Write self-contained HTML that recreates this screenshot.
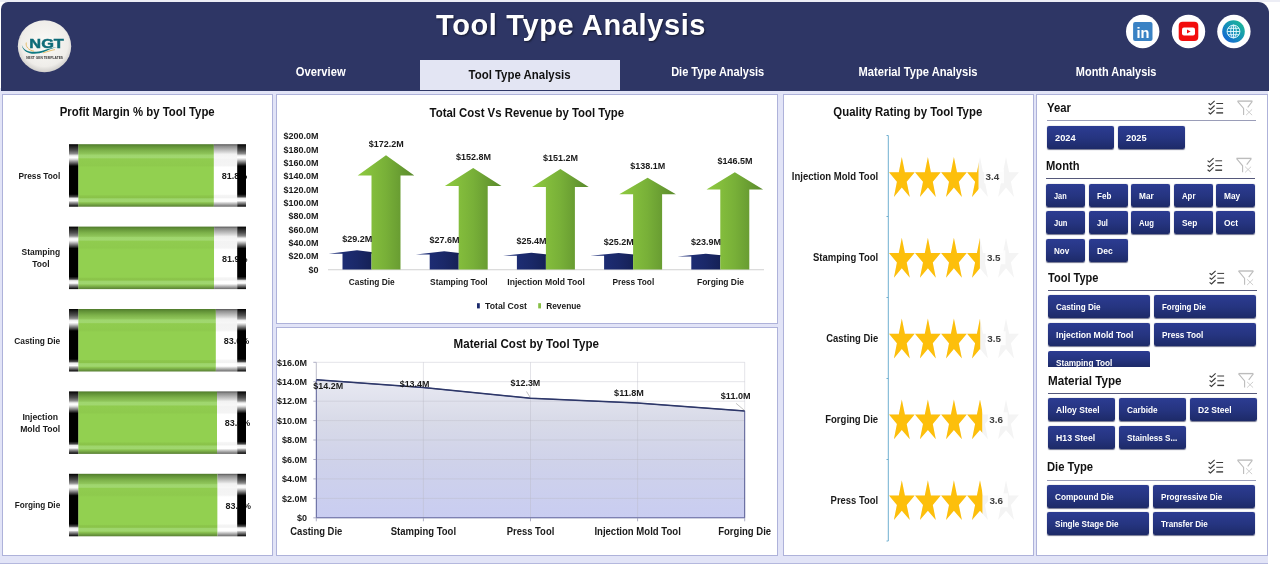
<!DOCTYPE html>
<html lang="en"><head><meta charset="utf-8"><title>Tool Type Analysis</title>
<style>
*{box-sizing:border-box;margin:0;padding:0}
html,body{width:1280px;height:572px;overflow:hidden;background:#fff}
body{font-family:"Liberation Sans",sans-serif;font-weight:bold;color:#1a1a1a;position:relative}
.abs{position:absolute}
#topstrip{left:0;top:0;width:1280px;height:2px;background:#ecedf5}
#canvas{left:0;top:88px;width:1268px;height:475.5px;background:#e2e4f7;border-bottom:1px solid #b4b8de}
#header{left:1px;top:2px;width:1268px;height:88.5px;background:#2e3665;border-radius:7px 11px 0 0}
#title{left:436px;top:7px;font-size:29px;line-height:36px;color:#fff;white-space:nowrap;text-shadow:1px 1px 2px rgba(0,0,0,.55);letter-spacing:0.62px}
.tab{top:60px;height:30px;width:200px;color:#fff;font-size:12px;line-height:14px;text-align:center;white-space:nowrap}
.tab span{display:inline-block;transform-origin:center}
.tab.active{background:#e3e5f3;color:#111}
.panel{background:#fff;border:1px solid #aeb2da}
svg{position:absolute;left:0;top:0;overflow:visible}
.tab,.btn,.sl-title,#title,svg{will-change:transform}
svg text{font-family:"Liberation Sans",sans-serif}
.sl-title{font-size:12px;line-height:14px;white-space:nowrap;color:#111}
.sl-title span,.btn span{display:inline-block;transform-origin:left center;white-space:nowrap}
.sl-line{height:1.5px;background:#8f93b5}
.btn{height:23.3px;border-radius:2px;background:linear-gradient(180deg,#2c3c92 0%,#25347f 55%,#1d2a68 100%);color:#fff;font-size:9px;line-height:23.3px;padding-left:7.7px;padding-top:1.4px;overflow:hidden;box-shadow:0 0.5px 1px rgba(20,25,70,.6)}
</style></head><body>
<div id="topstrip" class="abs"></div>
<div id="canvas" class="abs"></div>
<div id="header" class="abs"></div>
<div id="title" class="abs">Tool Type Analysis</div>
<svg class="abs" width="1280" height="95" viewBox="0 0 1280 95">
<defs>
<radialGradient id="lg" cx="50%" cy="45%" r="55%"><stop offset="0" stop-color="#fbfaf7"/><stop offset="0.8" stop-color="#efede9"/><stop offset="1" stop-color="#cfcdca"/></radialGradient>
<linearGradient id="gg" x1="1" y1="0" x2="0" y2="1"><stop offset="0" stop-color="#1fc08f"/><stop offset="0.5" stop-color="#1592b8"/><stop offset="1" stop-color="#1459dc"/></linearGradient>
</defs>
<ellipse cx="44.5" cy="46.2" rx="26.7" ry="26" fill="url(#lg)"/>
<text x="46.6" y="48" font-size="13" font-weight="bold" text-anchor="middle" fill="#0d6b78" stroke="#0d6b78" stroke-width="0.45" textLength="34.5" lengthAdjust="spacingAndGlyphs">NGT</text>
<path d="M21.8 45 C24 51.8 33 53.6 44 50.2 C49 48.600 53 47.400 57 47 C52.500 48.200 49 49.800 45 51.500 C35 55.600 23.500 54.500 21.800 45 Z" fill="#0f7b83"/>
<path d="M26.3 42.5 C25.300 46.500 28.500 50.300 34 51.200" fill="none" stroke="#e0a93a" stroke-width="0.7"/>
<path d="M43 52.8 C47.500 51.800 51 50.200 55 49.600" fill="none" stroke="#e0a93a" stroke-width="0.7"/>
<text x="44.6" y="58.9" font-size="2.9" font-weight="bold" text-anchor="middle" fill="#333" textLength="36.8" lengthAdjust="spacingAndGlyphs">NEXT GEN TEMPLATES</text>
<!-- social icons -->
<circle cx="1142.7" cy="31.5" r="16.7" fill="#fff"/>
<rect x="1133.1" y="22" width="19.4" height="18.9" rx="2" fill="#3a82c4"/>
<text x="1142.9" y="38" font-size="15.5" font-weight="bold" text-anchor="middle" fill="#fff" textLength="13" lengthAdjust="spacingAndGlyphs">in</text>
<circle cx="1188.5" cy="31.5" r="16.7" fill="#fff"/>
<rect x="1178.7" y="21.7" width="19.6" height="19.2" rx="4" fill="#f20d0d"/>
<rect x="1182" y="27.4" width="13" height="8" rx="2" fill="#fff"/>
<path d="M1187 29.4 L1190.6 31.4 L1187 33.400 Z" fill="#f20d0d"/>
<circle cx="1233.9" cy="31.500" r="16.700" fill="#fff"/>
<circle cx="1233.5" cy="31.500" r="11.300" fill="url(#gg)"/>
<g fill="none" stroke="#e8fbff" stroke-width="0.9">
<circle cx="1233.5" cy="31.500" r="6.400"/>
<ellipse cx="1233.5" cy="31.500" rx="2.800" ry="6.400"/>
<path d="M1233.5 25.100 V37.900 M1227.100 31.500 H1239.900 M1228 28.300 H1239 M1228 34.700 H1239"/>
</g>
</svg>
<div class="abs tab" style="left:221px;padding-top:4.8px"><span style="transform:scaleX(0.934)">Overview</span></div>
<div class="abs tab active" style="left:420px;padding-top:8.3px"><span style="transform:scaleX(0.953)">Tool Type Analysis</span></div>
<div class="abs tab" style="left:618px;padding-top:4.8px"><span style="transform:scaleX(0.918)">Die Type Analysis</span></div>
<div class="abs tab" style="left:818px;padding-top:4.8px"><span style="transform:scaleX(0.930)">Material Type Analysis</span></div>
<div class="abs tab" style="left:1016px;padding-top:4.8px"><span style="transform:scaleX(0.913)">Month Analysis</span></div>
<div id="p1" class="abs panel" style="left:2px;top:94px;width:271px;height:462px"></div>
<div id="p2" class="abs panel" style="left:276px;top:94px;width:502px;height:230px"></div>
<div id="p3" class="abs panel" style="left:276px;top:327px;width:502px;height:229px"></div>
<div id="p4" class="abs panel" style="left:783px;top:94px;width:251px;height:462px"></div>
<div id="p5" class="abs panel" style="left:1036px;top:94px;width:232px;height:462px"></div>
<svg class="abs" width="1280" height="572" viewBox="0 0 1280 572">
<defs>
<linearGradient id="cap" x1="0" y1="0" x2="0" y2="1"><stop offset="0" stop-color="#000"/><stop offset="0.03" stop-color="#1c1c1c"/><stop offset="0.1" stop-color="#505050"/><stop offset="0.15" stop-color="#8a8a8a"/><stop offset="0.185" stop-color="#f2f2f2"/><stop offset="0.215" stop-color="#fff"/><stop offset="0.24" stop-color="#dcdcdc"/><stop offset="0.35" stop-color="#000"/><stop offset="0.8" stop-color="#000"/><stop offset="0.84" stop-color="#4a4a4a"/><stop offset="0.865" stop-color="#ececec"/><stop offset="0.905" stop-color="#fff"/><stop offset="0.93" stop-color="#a8a8a8"/><stop offset="1" stop-color="#000"/></linearGradient>
<linearGradient id="grn" x1="0" y1="0" x2="0" y2="1"><stop offset="0" stop-color="#4f7a2b"/><stop offset="0.03" stop-color="#5f8f35"/><stop offset="0.1" stop-color="#7db24a"/><stop offset="0.155" stop-color="#8fc55a"/><stop offset="0.175" stop-color="#9fd66e"/><stop offset="0.215" stop-color="#a1d770"/><stop offset="0.235" stop-color="#90cc4f"/><stop offset="0.34" stop-color="#8eca4d"/><stop offset="0.37" stop-color="#92d050"/><stop offset="0.81" stop-color="#92d050"/><stop offset="0.825" stop-color="#8cc64b"/><stop offset="0.855" stop-color="#8ac349"/><stop offset="0.875" stop-color="#9ed56c"/><stop offset="0.915" stop-color="#a0d66f"/><stop offset="0.935" stop-color="#8cc452"/><stop offset="1" stop-color="#587f33"/></linearGradient>
<linearGradient id="emp" x1="0" y1="0" x2="0" y2="1"><stop offset="0" stop-color="#555"/><stop offset="0.03" stop-color="#8c8c8c"/><stop offset="0.13" stop-color="#d8d8d8"/><stop offset="0.16" stop-color="#f2f2f2"/><stop offset="0.22" stop-color="#f7f7f7"/><stop offset="0.24" stop-color="#f3f3f3"/><stop offset="0.34" stop-color="#f4f4f4"/><stop offset="0.37" stop-color="#fff"/><stop offset="0.8" stop-color="#fff"/><stop offset="0.82" stop-color="#f5f5f5"/><stop offset="0.855" stop-color="#f2f2f2"/><stop offset="0.875" stop-color="#fff"/><stop offset="0.915" stop-color="#fff"/><stop offset="0.94" stop-color="#d0d0d0"/><stop offset="1" stop-color="#6a6a6a"/></linearGradient>
<linearGradient id="arg" x1="0" y1="0" x2="1" y2="0"><stop offset="0" stop-color="#8fca40"/><stop offset="0.5" stop-color="#78b038"/><stop offset="1" stop-color="#5a8a2c"/></linearGradient>
<linearGradient id="arb" x1="0" y1="0" x2="1" y2="0"><stop offset="0" stop-color="#20317e"/><stop offset="0.5" stop-color="#1a2868"/><stop offset="1" stop-color="#111a46"/></linearGradient>
<linearGradient id="area" x1="0" y1="0" x2="0" y2="1"><stop offset="0" stop-color="#e8e9f2"/><stop offset="0.3" stop-color="#d8dae8"/><stop offset="0.6" stop-color="#cfd2ea"/><stop offset="1" stop-color="#c9cdf1"/></linearGradient>
</defs>
<text x="137.2" y="115.7" font-size="12" font-weight="bold" text-anchor="middle" fill="#111" textLength="155.0" lengthAdjust="spacingAndGlyphs">Profit Margin % by Tool Type</text>
<rect x="78.2" y="144.2" width="135.7" height="62.5" fill="url(#grn)"/>
<rect x="213.9" y="144.2" width="23.3" height="62.5" fill="url(#emp)"/>
<text x="221.7" y="179.1" font-size="9" font-weight="bold" text-anchor="start" fill="#1a1a1a">81.8%</text>
<rect x="69" y="144.2" width="9.2" height="62.5" fill="url(#cap)"/>
<rect x="237.2" y="144.2" width="8.8" height="62.5" fill="url(#cap)"/>
<text x="60.2" y="178.7" font-size="9" font-weight="bold" text-anchor="end" fill="#1a1a1a" textLength="41.8" lengthAdjust="spacingAndGlyphs">Press Tool</text>
<rect x="78.2" y="226.6" width="135.9" height="62.5" fill="url(#grn)"/>
<rect x="214.1" y="226.6" width="23.1" height="62.5" fill="url(#emp)"/>
<text x="221.9" y="261.5" font-size="9" font-weight="bold" text-anchor="start" fill="#1a1a1a">81.9%</text>
<rect x="69" y="226.6" width="9.2" height="62.5" fill="url(#cap)"/>
<rect x="237.2" y="226.6" width="8.8" height="62.5" fill="url(#cap)"/>
<text x="40.9" y="255.1" font-size="9" font-weight="bold" text-anchor="middle" fill="#1a1a1a" textLength="38.6" lengthAdjust="spacingAndGlyphs">Stamping</text>
<text x="40.9" y="267.1" font-size="9" font-weight="bold" text-anchor="middle" fill="#1a1a1a" textLength="17.2" lengthAdjust="spacingAndGlyphs">Tool</text>
<rect x="78.2" y="309.0" width="137.7" height="62.5" fill="url(#grn)"/>
<rect x="215.9" y="309.0" width="21.3" height="62.5" fill="url(#emp)"/>
<text x="223.7" y="343.9" font-size="9" font-weight="bold" text-anchor="start" fill="#1a1a1a">83.0%</text>
<rect x="69" y="309.0" width="9.2" height="62.5" fill="url(#cap)"/>
<rect x="237.2" y="309.0" width="8.8" height="62.5" fill="url(#cap)"/>
<text x="60.2" y="343.5" font-size="9" font-weight="bold" text-anchor="end" fill="#1a1a1a" textLength="46.0" lengthAdjust="spacingAndGlyphs">Casting Die</text>
<rect x="78.2" y="391.4" width="138.8" height="62.5" fill="url(#grn)"/>
<rect x="217.0" y="391.4" width="20.2" height="62.5" fill="url(#emp)"/>
<text x="224.8" y="426.3" font-size="9" font-weight="bold" text-anchor="start" fill="#1a1a1a">83.6%</text>
<rect x="69" y="391.4" width="9.2" height="62.5" fill="url(#cap)"/>
<rect x="237.2" y="391.4" width="8.8" height="62.5" fill="url(#cap)"/>
<text x="40.2" y="419.9" font-size="9" font-weight="bold" text-anchor="middle" fill="#1a1a1a" textLength="35.6" lengthAdjust="spacingAndGlyphs">Injection</text>
<text x="40.2" y="431.9" font-size="9" font-weight="bold" text-anchor="middle" fill="#1a1a1a" textLength="40.0" lengthAdjust="spacingAndGlyphs">Mold Tool</text>
<rect x="78.2" y="473.8" width="139.4" height="62.5" fill="url(#grn)"/>
<rect x="217.6" y="473.8" width="19.6" height="62.5" fill="url(#emp)"/>
<text x="225.4" y="508.7" font-size="9" font-weight="bold" text-anchor="start" fill="#1a1a1a">83.9%</text>
<rect x="69" y="473.8" width="9.2" height="62.5" fill="url(#cap)"/>
<rect x="237.2" y="473.8" width="8.8" height="62.5" fill="url(#cap)"/>
<text x="60.2" y="508.3" font-size="9" font-weight="bold" text-anchor="end" fill="#1a1a1a" textLength="45.5" lengthAdjust="spacingAndGlyphs">Forging Die</text>
<text x="526.8" y="116.6" font-size="12" font-weight="bold" text-anchor="middle" fill="#111" textLength="194.5" lengthAdjust="spacingAndGlyphs">Total Cost Vs Revenue by Tool Type</text>
<text x="318.6" y="272.7" font-size="9" font-weight="bold" text-anchor="end" fill="#1a1a1a">$0</text>
<text x="318.6" y="259.4" font-size="9" font-weight="bold" text-anchor="end" fill="#1a1a1a">$20.0M</text>
<text x="318.6" y="246.0" font-size="9" font-weight="bold" text-anchor="end" fill="#1a1a1a">$40.0M</text>
<text x="318.6" y="232.7" font-size="9" font-weight="bold" text-anchor="end" fill="#1a1a1a">$60.0M</text>
<text x="318.6" y="219.3" font-size="9" font-weight="bold" text-anchor="end" fill="#1a1a1a">$80.0M</text>
<text x="318.6" y="206.0" font-size="9" font-weight="bold" text-anchor="end" fill="#1a1a1a">$100.0M</text>
<text x="318.6" y="192.7" font-size="9" font-weight="bold" text-anchor="end" fill="#1a1a1a">$120.0M</text>
<text x="318.6" y="179.3" font-size="9" font-weight="bold" text-anchor="end" fill="#1a1a1a">$140.0M</text>
<text x="318.6" y="166.0" font-size="9" font-weight="bold" text-anchor="end" fill="#1a1a1a">$160.0M</text>
<text x="318.6" y="152.6" font-size="9" font-weight="bold" text-anchor="end" fill="#1a1a1a">$180.0M</text>
<text x="318.6" y="139.3" font-size="9" font-weight="bold" text-anchor="end" fill="#1a1a1a">$200.0M</text>
<rect x="328" y="269.1" width="436" height="1.2" fill="#d9d9d9"/>
<path d="M357.0 250.2 L385.3 253.7 L371.5 253.7 L371.5 269.6 L342.5 269.6 L342.5 253.7 L328.7 253.7 Z" fill="url(#arb)"/>
<path d="M386.0 155.2 L414.3 175.5 L400.5 175.5 L400.5 269.6 L371.5 269.6 L371.5 175.5 L357.7 175.5 Z" fill="url(#arg)"/>
<text x="357.2" y="241.8" font-size="9" font-weight="bold" text-anchor="middle" fill="#1a1a1a">$29.2M</text>
<text x="386.2" y="146.7" font-size="9" font-weight="bold" text-anchor="middle" fill="#1a1a1a">$172.2M</text>
<text x="371.7" y="285.0" font-size="9" font-weight="bold" text-anchor="middle" fill="#1a1a1a" textLength="45.9" lengthAdjust="spacingAndGlyphs">Casting Die</text>
<path d="M444.2 251.3 L472.5 254.5 L458.7 254.5 L458.7 269.6 L429.7 269.6 L429.7 254.5 L415.9 254.5 Z" fill="url(#arb)"/>
<path d="M473.2 168.1 L501.5 186.1 L487.7 186.1 L487.7 269.6 L458.7 269.6 L458.7 186.1 L444.9 186.1 Z" fill="url(#arg)"/>
<text x="444.4" y="242.9" font-size="9" font-weight="bold" text-anchor="middle" fill="#1a1a1a">$27.6M</text>
<text x="473.4" y="159.6" font-size="9" font-weight="bold" text-anchor="middle" fill="#1a1a1a">$152.8M</text>
<text x="458.9" y="285.0" font-size="9" font-weight="bold" text-anchor="middle" fill="#1a1a1a" textLength="57.6" lengthAdjust="spacingAndGlyphs">Stamping Tool</text>
<path d="M531.4 252.7 L559.7 255.7 L545.9 255.7 L545.9 269.6 L516.9 269.6 L516.9 255.7 L503.1 255.7 Z" fill="url(#arb)"/>
<path d="M560.4 169.1 L588.7 187.0 L574.9 187.0 L574.9 269.6 L545.9 269.6 L545.9 187.0 L532.1 187.0 Z" fill="url(#arg)"/>
<text x="531.6" y="244.3" font-size="9" font-weight="bold" text-anchor="middle" fill="#1a1a1a">$25.4M</text>
<text x="560.6" y="160.6" font-size="9" font-weight="bold" text-anchor="middle" fill="#1a1a1a">$151.2M</text>
<text x="546.1" y="285.0" font-size="9" font-weight="bold" text-anchor="middle" fill="#1a1a1a" textLength="77.5" lengthAdjust="spacingAndGlyphs">Injection Mold Tool</text>
<path d="M618.6 252.9 L646.9 255.8 L633.1 255.8 L633.1 269.6 L604.1 269.6 L604.1 255.8 L590.3 255.8 Z" fill="url(#arb)"/>
<path d="M647.6 177.8 L675.9 194.2 L662.1 194.2 L662.1 269.6 L633.1 269.6 L633.1 194.2 L619.3 194.2 Z" fill="url(#arg)"/>
<text x="618.8" y="244.5" font-size="9" font-weight="bold" text-anchor="middle" fill="#1a1a1a">$25.2M</text>
<text x="647.8" y="169.3" font-size="9" font-weight="bold" text-anchor="middle" fill="#1a1a1a">$138.1M</text>
<text x="633.3" y="285.0" font-size="9" font-weight="bold" text-anchor="middle" fill="#1a1a1a" textLength="41.8" lengthAdjust="spacingAndGlyphs">Press Tool</text>
<path d="M705.8 253.7 L734.1 256.5 L720.3 256.5 L720.3 269.6 L691.3 269.6 L691.3 256.5 L677.5 256.5 Z" fill="url(#arb)"/>
<path d="M734.8 172.3 L763.1 189.6 L749.3 189.6 L749.3 269.6 L720.3 269.6 L720.3 189.6 L706.5 189.6 Z" fill="url(#arg)"/>
<text x="706.0" y="245.3" font-size="9" font-weight="bold" text-anchor="middle" fill="#1a1a1a">$23.9M</text>
<text x="735.0" y="163.8" font-size="9" font-weight="bold" text-anchor="middle" fill="#1a1a1a">$146.5M</text>
<text x="720.5" y="285.0" font-size="9" font-weight="bold" text-anchor="middle" fill="#1a1a1a" textLength="47.0" lengthAdjust="spacingAndGlyphs">Forging Die</text>
<rect x="477" y="303.2" width="2.8" height="5.2" fill="#1b2a6b"/>
<text x="485.0" y="308.8" font-size="9" font-weight="bold" text-anchor="start" fill="#1a1a1a" textLength="41.9" lengthAdjust="spacingAndGlyphs">Total Cost</text>
<rect x="538.2" y="303.2" width="2.8" height="5.2" fill="#86bf45"/>
<text x="546.2" y="308.8" font-size="9" font-weight="bold" text-anchor="start" fill="#1a1a1a" textLength="34.8" lengthAdjust="spacingAndGlyphs">Revenue</text>
<text x="526.3" y="348.3" font-size="12" font-weight="bold" text-anchor="middle" fill="#111" textLength="145.4" lengthAdjust="spacingAndGlyphs">Material Cost by Tool Type</text>
<polygon points="316.3,517.8 316.3,379.8 423.4,387.6 530.5,398.2 637.6,403.1 744.7,410.9 744.7,517.8" fill="url(#area)"/>
<line x1="316.3" y1="498.4" x2="744.7" y2="498.4" stroke="#b9b9c6" stroke-opacity="0.5" stroke-width="0.8"/>
<line x1="316.3" y1="478.9" x2="744.7" y2="478.9" stroke="#b9b9c6" stroke-opacity="0.5" stroke-width="0.8"/>
<line x1="316.3" y1="459.5" x2="744.7" y2="459.5" stroke="#b9b9c6" stroke-opacity="0.5" stroke-width="0.8"/>
<line x1="316.3" y1="440.0" x2="744.7" y2="440.0" stroke="#b9b9c6" stroke-opacity="0.5" stroke-width="0.8"/>
<line x1="316.3" y1="420.6" x2="744.7" y2="420.6" stroke="#b9b9c6" stroke-opacity="0.5" stroke-width="0.8"/>
<line x1="316.3" y1="401.2" x2="744.7" y2="401.2" stroke="#b9b9c6" stroke-opacity="0.5" stroke-width="0.8"/>
<line x1="316.3" y1="381.7" x2="744.7" y2="381.7" stroke="#b9b9c6" stroke-opacity="0.5" stroke-width="0.8"/>
<line x1="316.3" y1="362.3" x2="744.7" y2="362.3" stroke="#b9b9c6" stroke-opacity="0.5" stroke-width="0.8"/>
<line x1="423.4" y1="362.3" x2="423.4" y2="517.8" stroke="#b9b9c6" stroke-opacity="0.5" stroke-width="0.8"/>
<line x1="530.5" y1="362.3" x2="530.5" y2="517.8" stroke="#b9b9c6" stroke-opacity="0.5" stroke-width="0.8"/>
<line x1="637.6" y1="362.3" x2="637.6" y2="517.8" stroke="#b9b9c6" stroke-opacity="0.5" stroke-width="0.8"/>
<line x1="744.7" y1="362.3" x2="744.7" y2="517.8" stroke="#b9b9c6" stroke-opacity="0.5" stroke-width="0.8"/>
<polygon points="316.3,517.8 316.3,379.8 423.4,387.6 530.5,398.2 637.6,403.1 744.7,410.9 744.7,517.8" fill="none" stroke="#4a4f8c" stroke-width="0.9"/>
<line x1="316.3" y1="362.3" x2="316.3" y2="379.8" stroke="#b4b4c4" stroke-width="0.9"/>
<polyline points="316.3,379.8 423.4,387.6 530.5,398.2 637.6,403.1 744.7,410.9" fill="none" stroke="#2d3768" stroke-width="1.55" stroke-linejoin="round"/>
<line x1="313.3" y1="517.8" x2="316.3" y2="517.8" stroke="#9a9ab8" stroke-width="0.8"/>
<text x="307.0" y="521.0" font-size="9" font-weight="bold" text-anchor="end" fill="#1a1a1a">$0</text>
<line x1="313.3" y1="498.4" x2="316.3" y2="498.4" stroke="#9a9ab8" stroke-width="0.8"/>
<text x="307.0" y="501.6" font-size="9" font-weight="bold" text-anchor="end" fill="#1a1a1a">$2.0M</text>
<line x1="313.3" y1="478.9" x2="316.3" y2="478.9" stroke="#9a9ab8" stroke-width="0.8"/>
<text x="307.0" y="482.1" font-size="9" font-weight="bold" text-anchor="end" fill="#1a1a1a">$4.0M</text>
<line x1="313.3" y1="459.5" x2="316.3" y2="459.5" stroke="#9a9ab8" stroke-width="0.8"/>
<text x="307.0" y="462.7" font-size="9" font-weight="bold" text-anchor="end" fill="#1a1a1a">$6.0M</text>
<line x1="313.3" y1="440.0" x2="316.3" y2="440.0" stroke="#9a9ab8" stroke-width="0.8"/>
<text x="307.0" y="443.2" font-size="9" font-weight="bold" text-anchor="end" fill="#1a1a1a">$8.0M</text>
<line x1="313.3" y1="420.6" x2="316.3" y2="420.6" stroke="#9a9ab8" stroke-width="0.8"/>
<text x="307.0" y="423.8" font-size="9" font-weight="bold" text-anchor="end" fill="#1a1a1a">$10.0M</text>
<line x1="313.3" y1="401.2" x2="316.3" y2="401.2" stroke="#9a9ab8" stroke-width="0.8"/>
<text x="307.0" y="404.4" font-size="9" font-weight="bold" text-anchor="end" fill="#1a1a1a">$12.0M</text>
<line x1="313.3" y1="381.7" x2="316.3" y2="381.7" stroke="#9a9ab8" stroke-width="0.8"/>
<text x="307.0" y="384.9" font-size="9" font-weight="bold" text-anchor="end" fill="#1a1a1a">$14.0M</text>
<line x1="313.3" y1="362.3" x2="316.3" y2="362.3" stroke="#9a9ab8" stroke-width="0.8"/>
<text x="307.0" y="365.5" font-size="9" font-weight="bold" text-anchor="end" fill="#1a1a1a">$16.0M</text>
<line x1="316.3" y1="517.8" x2="316.3" y2="521.3" stroke="#9a9ab8" stroke-width="0.8"/>
<line x1="423.4" y1="517.8" x2="423.4" y2="521.3" stroke="#9a9ab8" stroke-width="0.8"/>
<line x1="530.5" y1="517.8" x2="530.5" y2="521.3" stroke="#9a9ab8" stroke-width="0.8"/>
<line x1="637.6" y1="517.8" x2="637.6" y2="521.3" stroke="#9a9ab8" stroke-width="0.8"/>
<line x1="744.7" y1="517.8" x2="744.7" y2="521.3" stroke="#9a9ab8" stroke-width="0.8"/>
<text x="316.3" y="535.4" font-size="10" font-weight="bold" text-anchor="middle" fill="#1a1a1a" textLength="52.0" lengthAdjust="spacingAndGlyphs">Casting Die</text>
<text x="423.4" y="535.4" font-size="10" font-weight="bold" text-anchor="middle" fill="#1a1a1a" textLength="65.3" lengthAdjust="spacingAndGlyphs">Stamping Tool</text>
<text x="530.5" y="535.4" font-size="10" font-weight="bold" text-anchor="middle" fill="#1a1a1a" textLength="47.6" lengthAdjust="spacingAndGlyphs">Press Tool</text>
<text x="637.6" y="535.4" font-size="10" font-weight="bold" text-anchor="middle" fill="#1a1a1a" textLength="86.4" lengthAdjust="spacingAndGlyphs">Injection Mold Tool</text>
<text x="744.7" y="535.4" font-size="10" font-weight="bold" text-anchor="middle" fill="#1a1a1a" textLength="53.0" lengthAdjust="spacingAndGlyphs">Forging Die</text>
<text x="313.3" y="389.4" font-size="9" font-weight="bold" text-anchor="start" fill="#1a1a1a" textLength="29.8" lengthAdjust="spacingAndGlyphs">$14.2M</text>
<text x="399.7" y="387.4" font-size="9" font-weight="bold" text-anchor="start" fill="#1a1a1a" textLength="29.8" lengthAdjust="spacingAndGlyphs">$13.4M</text>
<text x="510.5" y="385.5" font-size="9" font-weight="bold" text-anchor="start" fill="#1a1a1a" textLength="29.8" lengthAdjust="spacingAndGlyphs">$12.3M</text>
<text x="614.1" y="395.5" font-size="9" font-weight="bold" text-anchor="start" fill="#1a1a1a" textLength="29.8" lengthAdjust="spacingAndGlyphs">$11.8M</text>
<text x="720.8" y="399.2" font-size="9" font-weight="bold" text-anchor="start" fill="#1a1a1a" textLength="29.8" lengthAdjust="spacingAndGlyphs">$11.0M</text>
<path d="M526.5 391.5 L530.3 397.6 M736 403.300 L744.3 410.300" stroke="#a6a6a6" stroke-width="0.7" fill="none"/>
<text x="907.8" y="116.4" font-size="12" font-weight="bold" text-anchor="middle" fill="#111" textLength="148.9" lengthAdjust="spacingAndGlyphs">Quality Rating by Tool Type</text>
<path d="M886.5 135.5 H888.3 V541 H886.5 M886.500 216.500 H888.300 M886.500 297.500 H888.300 M886.500 378.500 H888.300 M886.500 459.500 H888.300" fill="none" stroke="#70b0d0" stroke-width="1"/>
<clipPath id="cf0"><rect x="889.0" y="156.0" width="89.5" height="42"/></clipPath>
<g fill="#f4f4f4"><polygon points="901.8,157.0 898.8,172.2 889.0,172.2 896.9,181.7 893.9,196.9 901.8,187.5 909.8,196.9 906.7,181.7 914.7,172.2 904.9,172.2"/><polygon points="927.9,157.0 924.8,172.2 915.0,172.2 923.0,181.7 919.9,196.9 927.9,187.5 935.8,196.9 932.8,181.7 940.7,172.2 930.9,172.2"/><polygon points="953.9,157.0 950.9,172.2 941.1,172.2 949.0,181.7 946.0,196.9 953.9,187.5 961.9,196.9 958.8,181.7 966.8,172.2 957.0,172.2"/><polygon points="980.0,157.0 976.9,172.2 967.1,172.2 975.1,181.7 972.0,196.9 980.0,187.5 987.9,196.9 984.9,181.7 992.8,172.2 983.0,172.2"/><polygon points="1006.0,157.0 1003.0,172.2 993.2,172.2 1001.1,181.7 998.1,196.9 1006.0,187.5 1014.0,196.9 1010.9,181.7 1018.9,172.2 1009.1,172.2"/></g>
<g fill="#fdbf0b" clip-path="url(#cf0)"><polygon points="901.8,157.0 898.8,172.2 889.0,172.2 896.9,181.7 893.9,196.9 901.8,187.5 909.8,196.9 906.7,181.7 914.7,172.2 904.9,172.2"/><polygon points="927.9,157.0 924.8,172.2 915.0,172.2 923.0,181.7 919.9,196.9 927.9,187.5 935.8,196.9 932.8,181.7 940.7,172.2 930.9,172.2"/><polygon points="953.9,157.0 950.9,172.2 941.1,172.2 949.0,181.7 946.0,196.9 953.9,187.5 961.9,196.9 958.8,181.7 966.8,172.2 957.0,172.2"/><polygon points="980.0,157.0 976.9,172.2 967.1,172.2 975.1,181.7 972.0,196.9 980.0,187.5 987.9,196.9 984.9,181.7 992.8,172.2 983.0,172.2"/><polygon points="1006.0,157.0 1003.0,172.2 993.2,172.2 1001.1,181.7 998.1,196.9 1006.0,187.5 1014.0,196.9 1010.9,181.7 1018.9,172.2 1009.1,172.2"/></g>
<rect x="984.0" y="169.3" width="20" height="14" fill="#fff" fill-opacity="0.8"/>
<text x="985.5" y="179.5" font-size="9" font-weight="bold" text-anchor="start" fill="#404040" textLength="13.7" lengthAdjust="spacingAndGlyphs">3.4</text>
<text x="878.2" y="179.5" font-size="10" font-weight="bold" text-anchor="end" fill="#1a1a1a" textLength="86.4" lengthAdjust="spacingAndGlyphs">Injection Mold Tool</text>
<clipPath id="cf1"><rect x="889.0" y="236.79999999999998" width="90.9" height="42"/></clipPath>
<g fill="#f4f4f4"><polygon points="901.8,237.8 898.8,253.0 889.0,253.0 896.9,262.5 893.9,277.7 901.8,268.3 909.8,277.7 906.7,262.5 914.7,253.0 904.9,253.0"/><polygon points="927.9,237.8 924.8,253.0 915.0,253.0 923.0,262.5 919.9,277.7 927.9,268.3 935.8,277.7 932.8,262.5 940.7,253.0 930.9,253.0"/><polygon points="953.9,237.8 950.9,253.0 941.1,253.0 949.0,262.5 946.0,277.7 953.9,268.3 961.9,277.7 958.8,262.5 966.8,253.0 957.0,253.0"/><polygon points="980.0,237.8 976.9,253.0 967.1,253.0 975.1,262.5 972.0,277.7 980.0,268.3 987.9,277.7 984.9,262.5 992.8,253.0 983.0,253.0"/><polygon points="1006.0,237.8 1003.0,253.0 993.2,253.0 1001.1,262.5 998.1,277.7 1006.0,268.3 1014.0,277.7 1010.9,262.5 1018.9,253.0 1009.1,253.0"/></g>
<g fill="#fdbf0b" clip-path="url(#cf1)"><polygon points="901.8,237.8 898.8,253.0 889.0,253.0 896.9,262.5 893.9,277.7 901.8,268.3 909.8,277.7 906.7,262.5 914.7,253.0 904.9,253.0"/><polygon points="927.9,237.8 924.8,253.0 915.0,253.0 923.0,262.5 919.9,277.7 927.9,268.3 935.8,277.7 932.8,262.5 940.7,253.0 930.9,253.0"/><polygon points="953.9,237.8 950.9,253.0 941.1,253.0 949.0,262.5 946.0,277.7 953.9,268.3 961.9,277.7 958.8,262.5 966.8,253.0 957.0,253.0"/><polygon points="980.0,237.8 976.9,253.0 967.1,253.0 975.1,262.5 972.0,277.7 980.0,268.3 987.9,277.7 984.9,262.5 992.8,253.0 983.0,253.0"/><polygon points="1006.0,237.8 1003.0,253.0 993.2,253.0 1001.1,262.5 998.1,277.7 1006.0,268.3 1014.0,277.7 1010.9,262.5 1018.9,253.0 1009.1,253.0"/></g>
<rect x="985.4" y="250.3" width="20" height="14" fill="#fff" fill-opacity="0.8"/>
<text x="986.9" y="260.5" font-size="9" font-weight="bold" text-anchor="start" fill="#404040" textLength="13.7" lengthAdjust="spacingAndGlyphs">3.5</text>
<text x="878.2" y="260.5" font-size="10" font-weight="bold" text-anchor="end" fill="#1a1a1a" textLength="65.3" lengthAdjust="spacingAndGlyphs">Stamping Tool</text>
<clipPath id="cf2"><rect x="889.0" y="317.6" width="91.2" height="42"/></clipPath>
<g fill="#f4f4f4"><polygon points="901.8,318.6 898.8,333.8 889.0,333.8 896.9,343.3 893.9,358.5 901.8,349.1 909.8,358.5 906.7,343.3 914.7,333.8 904.9,333.8"/><polygon points="927.9,318.6 924.8,333.8 915.0,333.8 923.0,343.3 919.9,358.5 927.9,349.1 935.8,358.5 932.8,343.3 940.7,333.8 930.9,333.8"/><polygon points="953.9,318.6 950.9,333.8 941.1,333.8 949.0,343.3 946.0,358.5 953.9,349.1 961.9,358.5 958.8,343.3 966.8,333.8 957.0,333.8"/><polygon points="980.0,318.6 976.9,333.8 967.1,333.8 975.1,343.3 972.0,358.5 980.0,349.1 987.9,358.5 984.9,343.3 992.8,333.8 983.0,333.8"/><polygon points="1006.0,318.6 1003.0,333.8 993.2,333.8 1001.1,343.3 998.1,358.5 1006.0,349.1 1014.0,358.5 1010.9,343.3 1018.9,333.8 1009.1,333.8"/></g>
<g fill="#fdbf0b" clip-path="url(#cf2)"><polygon points="901.8,318.6 898.8,333.8 889.0,333.8 896.9,343.3 893.9,358.5 901.8,349.1 909.8,358.5 906.7,343.3 914.7,333.8 904.9,333.8"/><polygon points="927.9,318.6 924.8,333.8 915.0,333.8 923.0,343.3 919.9,358.5 927.9,349.1 935.8,358.5 932.8,343.3 940.7,333.8 930.9,333.8"/><polygon points="953.9,318.6 950.9,333.8 941.1,333.8 949.0,343.3 946.0,358.5 953.9,349.1 961.9,358.5 958.8,343.3 966.8,333.8 957.0,333.8"/><polygon points="980.0,318.6 976.9,333.8 967.1,333.8 975.1,343.3 972.0,358.5 980.0,349.1 987.9,358.5 984.9,343.3 992.8,333.8 983.0,333.8"/><polygon points="1006.0,318.6 1003.0,333.8 993.2,333.8 1001.1,343.3 998.1,358.5 1006.0,349.1 1014.0,358.5 1010.9,343.3 1018.9,333.8 1009.1,333.8"/></g>
<rect x="985.7" y="331.3" width="20" height="14" fill="#fff" fill-opacity="0.8"/>
<text x="987.2" y="341.5" font-size="9" font-weight="bold" text-anchor="start" fill="#404040" textLength="13.7" lengthAdjust="spacingAndGlyphs">3.5</text>
<text x="878.2" y="341.5" font-size="10" font-weight="bold" text-anchor="end" fill="#1a1a1a" textLength="52.0" lengthAdjust="spacingAndGlyphs">Casting Die</text>
<clipPath id="cf3"><rect x="889.0" y="398.4" width="93.2" height="42"/></clipPath>
<g fill="#f4f4f4"><polygon points="901.8,399.4 898.8,414.6 889.0,414.6 896.9,424.1 893.9,439.3 901.8,429.9 909.8,439.3 906.7,424.1 914.7,414.6 904.9,414.6"/><polygon points="927.9,399.4 924.8,414.6 915.0,414.6 923.0,424.1 919.9,439.3 927.9,429.9 935.8,439.3 932.8,424.1 940.7,414.6 930.9,414.6"/><polygon points="953.9,399.4 950.9,414.6 941.1,414.6 949.0,424.1 946.0,439.3 953.9,429.9 961.9,439.3 958.8,424.1 966.8,414.6 957.0,414.6"/><polygon points="980.0,399.4 976.9,414.6 967.1,414.6 975.1,424.1 972.0,439.3 980.0,429.9 987.9,439.3 984.9,424.1 992.8,414.6 983.0,414.6"/><polygon points="1006.0,399.4 1003.0,414.6 993.2,414.6 1001.1,424.1 998.1,439.3 1006.0,429.9 1014.0,439.3 1010.9,424.1 1018.9,414.6 1009.1,414.6"/></g>
<g fill="#fdbf0b" clip-path="url(#cf3)"><polygon points="901.8,399.4 898.8,414.6 889.0,414.6 896.9,424.1 893.9,439.3 901.8,429.9 909.8,439.3 906.7,424.1 914.7,414.6 904.9,414.6"/><polygon points="927.9,399.4 924.8,414.6 915.0,414.6 923.0,424.1 919.9,439.3 927.9,429.9 935.8,439.3 932.8,424.1 940.7,414.6 930.9,414.6"/><polygon points="953.9,399.4 950.9,414.6 941.1,414.6 949.0,424.1 946.0,439.3 953.9,429.9 961.9,439.3 958.8,424.1 966.8,414.6 957.0,414.6"/><polygon points="980.0,399.4 976.9,414.6 967.1,414.6 975.1,424.1 972.0,439.3 980.0,429.9 987.9,439.3 984.9,424.1 992.8,414.6 983.0,414.6"/><polygon points="1006.0,399.4 1003.0,414.6 993.2,414.6 1001.1,424.1 998.1,439.3 1006.0,429.9 1014.0,439.3 1010.9,424.1 1018.9,414.6 1009.1,414.6"/></g>
<rect x="987.7" y="412.3" width="20" height="14" fill="#fff" fill-opacity="0.8"/>
<text x="989.2" y="422.5" font-size="9" font-weight="bold" text-anchor="start" fill="#404040" textLength="13.7" lengthAdjust="spacingAndGlyphs">3.6</text>
<text x="878.2" y="422.5" font-size="10" font-weight="bold" text-anchor="end" fill="#1a1a1a" textLength="53.0" lengthAdjust="spacingAndGlyphs">Forging Die</text>
<clipPath id="cf4"><rect x="889.0" y="479.20000000000005" width="93.4" height="42"/></clipPath>
<g fill="#f4f4f4"><polygon points="901.8,480.2 898.8,495.4 889.0,495.4 896.9,504.9 893.9,520.1 901.8,510.7 909.8,520.1 906.7,504.9 914.7,495.4 904.9,495.4"/><polygon points="927.9,480.2 924.8,495.4 915.0,495.4 923.0,504.9 919.9,520.1 927.9,510.7 935.8,520.1 932.8,504.9 940.7,495.4 930.9,495.4"/><polygon points="953.9,480.2 950.9,495.4 941.1,495.4 949.0,504.9 946.0,520.1 953.9,510.7 961.9,520.1 958.8,504.9 966.8,495.4 957.0,495.4"/><polygon points="980.0,480.2 976.9,495.4 967.1,495.4 975.1,504.9 972.0,520.1 980.0,510.7 987.9,520.1 984.9,504.9 992.8,495.4 983.0,495.4"/><polygon points="1006.0,480.2 1003.0,495.4 993.2,495.4 1001.1,504.9 998.1,520.1 1006.0,510.7 1014.0,520.1 1010.9,504.9 1018.9,495.4 1009.1,495.4"/></g>
<g fill="#fdbf0b" clip-path="url(#cf4)"><polygon points="901.8,480.2 898.8,495.4 889.0,495.4 896.9,504.9 893.9,520.1 901.8,510.7 909.8,520.1 906.7,504.9 914.7,495.4 904.9,495.4"/><polygon points="927.9,480.2 924.8,495.4 915.0,495.4 923.0,504.9 919.9,520.1 927.9,510.7 935.8,520.1 932.8,504.9 940.7,495.4 930.9,495.4"/><polygon points="953.9,480.2 950.9,495.4 941.1,495.4 949.0,504.9 946.0,520.1 953.9,510.7 961.9,520.1 958.8,504.9 966.8,495.4 957.0,495.4"/><polygon points="980.0,480.2 976.9,495.4 967.1,495.4 975.1,504.9 972.0,520.1 980.0,510.7 987.9,520.1 984.9,504.9 992.8,495.4 983.0,495.4"/><polygon points="1006.0,480.2 1003.0,495.4 993.2,495.4 1001.1,504.9 998.1,520.1 1006.0,510.7 1014.0,520.1 1010.9,504.9 1018.9,495.4 1009.1,495.4"/></g>
<rect x="987.9" y="493.3" width="20" height="14" fill="#fff" fill-opacity="0.8"/>
<text x="989.4" y="503.5" font-size="9" font-weight="bold" text-anchor="start" fill="#404040" textLength="13.7" lengthAdjust="spacingAndGlyphs">3.6</text>
<text x="878.2" y="503.5" font-size="10" font-weight="bold" text-anchor="end" fill="#1a1a1a" textLength="47.6" lengthAdjust="spacingAndGlyphs">Press Tool</text>
</svg>
<div class="abs sl-title" style="left:1047px;top:101.2px"><span style="transform:scaleX(0.941)">Year</span></div>
<div class="abs sl-line" style="left:1047px;top:119.9px;width:209px;height:1.6px;background:#9a9db8"></div>
<div class="abs btn" style="left:1047.0px;top:125.6px;width:67px"><span style="transform:scaleX(1.025)">2024</span></div>
<div class="abs btn" style="left:1117.9px;top:125.6px;width:67px"><span style="transform:scaleX(1.025)">2025</span></div>
<div class="abs sl-title" style="left:1046.0px;top:158.5px"><span style="transform:scaleX(0.931)">Month</span></div>
<div class="abs sl-line" style="left:1046.0px;top:177.8px;width:209px;height:1.2px;background:#55587a"></div>
<div class="abs btn" style="left:1046.0px;top:183.7px;width:38.6px"><span style="transform:scaleX(0.813)">Jan</span></div>
<div class="abs btn" style="left:1088.5px;top:183.7px;width:38.6px"><span style="transform:scaleX(0.894)">Feb</span></div>
<div class="abs btn" style="left:1131.0px;top:183.7px;width:38.6px"><span style="transform:scaleX(0.918)">Mar</span></div>
<div class="abs btn" style="left:1173.5px;top:183.7px;width:38.6px"><span style="transform:scaleX(0.865)">Apr</span></div>
<div class="abs btn" style="left:1216.0px;top:183.7px;width:38.6px"><span style="transform:scaleX(0.925)">May</span></div>
<div class="abs btn" style="left:1046.0px;top:211.4px;width:38.6px"><span style="transform:scaleX(0.838)">Jun</span></div>
<div class="abs btn" style="left:1088.5px;top:211.4px;width:38.6px"><span style="transform:scaleX(0.831)">Jul</span></div>
<div class="abs btn" style="left:1131.0px;top:211.4px;width:38.6px"><span style="transform:scaleX(0.852)">Aug</span></div>
<div class="abs btn" style="left:1173.5px;top:211.4px;width:38.6px"><span style="transform:scaleX(0.927)">Sep</span></div>
<div class="abs btn" style="left:1216.0px;top:211.4px;width:38.6px"><span style="transform:scaleX(0.933)">Oct</span></div>
<div class="abs btn" style="left:1046.0px;top:239.1px;width:38.6px"><span style="transform:scaleX(0.900)">Nov</span></div>
<div class="abs btn" style="left:1088.5px;top:239.1px;width:38.6px"><span style="transform:scaleX(0.951)">Dec</span></div>
<div class="abs sl-title" style="left:1048px;top:271.1px"><span style="transform:scaleX(0.920)">Tool Type</span></div>
<div class="abs sl-line" style="left:1048px;top:290.2px;width:209px;height:1.2px;background:#55587a"></div>
<div class="abs btn" style="left:1048.0px;top:295.3px;width:102px"><span style="transform:scaleX(0.899)">Casting Die</span></div>
<div class="abs btn" style="left:1153.9px;top:295.3px;width:102px"><span style="transform:scaleX(0.876)">Forging Die</span></div>
<div class="abs btn" style="left:1048.0px;top:323.0px;width:102px"><span style="transform:scaleX(0.952)">Injection Mold Tool</span></div>
<div class="abs btn" style="left:1153.9px;top:323.0px;width:102px"><span style="transform:scaleX(0.911)">Press Tool</span></div>
<div class="abs btn" style="left:1048.0px;top:350.7px;width:102px;height:15.9px;border-radius:2px 2px 0 0;box-shadow:none"><span style="transform:scaleX(0.912)">Stamping Tool</span></div>
<div class="abs sl-title" style="left:1048px;top:373.7px"><span style="transform:scaleX(0.971)">Material Type</span></div>
<div class="abs sl-line" style="left:1048px;top:393.0px;width:209px;height:1.2px;background:#55587a"></div>
<div class="abs btn" style="left:1048.0px;top:398.3px;width:66.8px"><span style="transform:scaleX(0.948)">Alloy Steel</span></div>
<div class="abs btn" style="left:1118.8px;top:398.3px;width:66.8px"><span style="transform:scaleX(0.913)">Carbide</span></div>
<div class="abs btn" style="left:1189.6px;top:398.3px;width:66.8px"><span style="transform:scaleX(0.946)">D2 Steel</span></div>
<div class="abs btn" style="left:1048.0px;top:426.1px;width:66.8px"><span style="transform:scaleX(0.967)">H13 Steel</span></div>
<div class="abs btn" style="left:1118.8px;top:426.1px;width:66.8px"><span style="transform:scaleX(0.906)">Stainless S...</span></div>
<div class="abs sl-title" style="left:1047px;top:460.2px"><span style="transform:scaleX(0.937)">Die Type</span></div>
<div class="abs sl-line" style="left:1047px;top:479.5px;width:209px;height:1.6px;background:#9a9db8"></div>
<div class="abs btn" style="left:1047.0px;top:484.7px;width:102px"><span style="transform:scaleX(0.916)">Compound Die</span></div>
<div class="abs btn" style="left:1152.9px;top:484.7px;width:102px"><span style="transform:scaleX(0.901)">Progressive Die</span></div>
<div class="abs btn" style="left:1047.0px;top:512.2px;width:102px"><span style="transform:scaleX(0.901)">Single Stage Die</span></div>
<div class="abs btn" style="left:1152.9px;top:512.2px;width:102px"><span style="transform:scaleX(0.898)">Transfer Die</span></div>
<svg class="abs" width="1280" height="572" viewBox="0 0 1280 572"><defs>
<g id="chk" fill="none" stroke="#3a3a3a" stroke-width="1.15"><path d="M0.3 2.700 L2.200 4.200 L6.300 0.300 M0.300 7.300 L2.200 8.800 L6.300 4.900 M0.300 11.900 L2.200 13.400 L6.300 9.500"/><path d="M8 2.900 H14.800 M8 7.700 H14.800" stroke-width="1"/><path d="M8 12.300 H14.800" stroke-width="1.400"/></g>
<g id="flt" fill="none" stroke="#bcbcbc" stroke-width="1.1"><path d="M0.2 0.500 H15.100" stroke-width="1.400"/><path d="M0.300 0.700 L6.300 7.900 V14.300 M15 0.700 L10.400 6.700"/><path d="M8.800 8.800 L14.800 14.500 M14.800 8.800 L8.800 14.500" stroke="#cacaca" stroke-width="0.900"/></g>
</defs><use href="#chk" x="1208.3" y="100.6"/><use href="#flt" x="1237.3" y="100.6"/><use href="#chk" x="1207.3" y="157.9"/><use href="#flt" x="1236.3" y="157.9"/><use href="#chk" x="1209.3" y="270.5"/><use href="#flt" x="1238.3" y="270.5"/><use href="#chk" x="1209.3" y="373.1"/><use href="#flt" x="1238.3" y="373.1"/><use href="#chk" x="1208.3" y="459.6"/><use href="#flt" x="1237.3" y="459.6"/></svg>
</body></html>
